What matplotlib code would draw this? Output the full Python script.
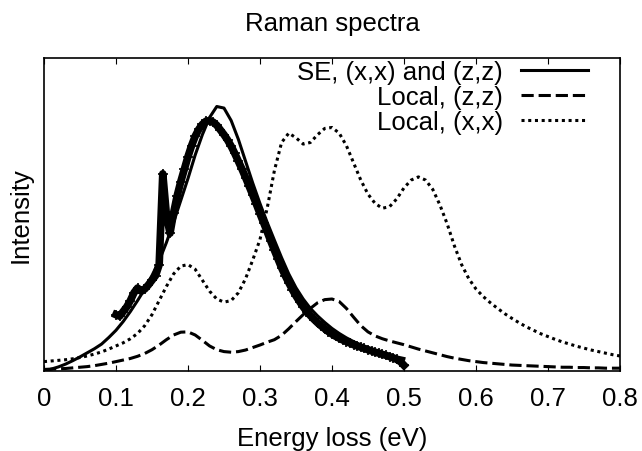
import numpy as np
import matplotlib
matplotlib.use('Agg')
import matplotlib.pyplot as plt

plt.rcParams['font.family'] = ['Liberation Sans', 'DejaVu Sans']

# model curves, 0.01 eV steps
energy_se = np.round(np.arange(0, 0.501, 0.01), 3)
se_xx_zz = [0.000, 0.006, 0.013, 0.022, 0.033, 0.045, 0.058, 0.071, 0.086, 0.107,
            0.130, 0.158, 0.190, 0.225, 0.262, 0.305, 0.352, 0.410, 0.475, 0.545,
            0.615, 0.690, 0.755, 0.810, 0.845, 0.840, 0.800, 0.740, 0.670, 0.600,
            0.535, 0.475, 0.418, 0.362, 0.310, 0.266, 0.230, 0.200, 0.176, 0.155,
            0.136, 0.120, 0.106, 0.094, 0.083, 0.074, 0.066, 0.058, 0.051, 0.045,
            0.040]

energy_local = np.round(np.arange(0, 0.801, 0.01), 3)
local_zz = [0.005, 0.006, 0.007, 0.008, 0.010, 0.012, 0.014, 0.017, 0.021, 0.025,
            0.030, 0.035, 0.040, 0.047, 0.056, 0.068, 0.083, 0.100, 0.115, 0.124,
            0.125, 0.115, 0.098, 0.080, 0.068, 0.062, 0.060, 0.062, 0.067, 0.075,
            0.083, 0.092, 0.100, 0.114, 0.135, 0.158, 0.180, 0.200, 0.218, 0.228,
            0.230, 0.222, 0.200, 0.172, 0.145, 0.125, 0.112, 0.103, 0.096, 0.090,
            0.084, 0.077, 0.070, 0.064, 0.058, 0.052, 0.046, 0.041, 0.037, 0.033,
            0.030, 0.027, 0.025, 0.023, 0.021, 0.019, 0.018, 0.017, 0.016, 0.015,
            0.014, 0.013, 0.012, 0.012, 0.011, 0.011, 0.010, 0.010, 0.009, 0.009,
            0.009]
local_xx = [0.030, 0.032, 0.034, 0.036, 0.039, 0.043, 0.048, 0.054, 0.061, 0.070,
            0.080, 0.090, 0.103, 0.120, 0.145, 0.180, 0.225, 0.270, 0.310, 0.335,
            0.340, 0.325, 0.290, 0.255, 0.230, 0.220, 0.225, 0.250, 0.295, 0.355,
            0.420, 0.520, 0.640, 0.730, 0.760, 0.745, 0.725, 0.730, 0.755, 0.775,
            0.778, 0.760, 0.720, 0.665, 0.610, 0.565, 0.535, 0.520, 0.525, 0.550,
            0.585, 0.610, 0.620, 0.610, 0.580, 0.530, 0.470, 0.400, 0.340, 0.295,
            0.262, 0.238, 0.218, 0.200, 0.183, 0.168, 0.154, 0.141, 0.130, 0.119,
            0.110, 0.101, 0.093, 0.086, 0.079, 0.073, 0.067, 0.062, 0.057, 0.052,
            0.048]

# measured spectrum, 0.005 eV steps
energy_exp = np.round(np.arange(0.1, 0.5001, 0.005), 3)
exp_data = [0.180, 0.175, 0.190, 0.205, 0.225, 0.250, 0.265, 0.255, 0.262, 0.275,
            0.290, 0.305, 0.340, 0.630, 0.500, 0.440, 0.505, 0.560, 0.605, 0.645,
            0.685, 0.720, 0.750, 0.772, 0.788, 0.798, 0.800, 0.795, 0.785, 0.770,
            0.755, 0.738, 0.718, 0.695, 0.670, 0.645, 0.618, 0.590, 0.562, 0.533,
            0.503, 0.474, 0.445, 0.415, 0.386, 0.358, 0.330, 0.305, 0.282, 0.260,
            0.240, 0.222, 0.205, 0.190, 0.177, 0.165, 0.154, 0.144, 0.135, 0.126,
            0.118, 0.111, 0.105, 0.099, 0.094, 0.089, 0.084, 0.080, 0.076, 0.072,
            0.068, 0.064, 0.060, 0.057, 0.053, 0.050, 0.046, 0.042, 0.037, 0.030,
            0.018]

fs = 18.5

fig = plt.figure(figsize=(6.42, 4.52), dpi=100)
ax = fig.add_axes([0.0685, 0.177, 0.8972, 0.6925])

ax.plot(energy_exp, exp_data, color='black', lw=5.5, marker='+', ms=7, mew=1.2)
ax.plot(energy_se, se_xx_zz, color='black', lw=2.2, label='SE, (x,x) and (z,z)')
ax.plot(energy_local, local_zz, color='black', lw=2.2, ls=(0, (4, 1.6)), label='Local, (z,z)')
ax.plot(energy_local, local_xx, color='black', lw=2.2, ls=(0, (1, 1.2)), label='Local, (x,x)')

ax.set_xlim(0, 0.8)
ax.set_ylim(0, 1)
ax.set_xticks(np.arange(0, 0.81, 0.1))
ax.set_xticklabels(['0', '0.1', '0.2', '0.3', '0.4', '0.5', '0.6', '0.7', '0.8'])
ax.set_yticks([])
ax.tick_params(axis='x', direction='in', top=True, length=4, width=0.8, labelsize=fs, pad=11)
for s in ax.spines.values():
    s.set_linewidth(1.2)

ax.set_xlabel('Energy loss (eV)', fontsize=fs, labelpad=11)
ax.set_ylabel('Intensity', fontsize=fs, labelpad=8)
ax.set_title('Raman spectra', fontsize=fs, pad=20)

leg = ax.legend(loc='upper right', bbox_to_anchor=(0.944, 0.995), frameon=False,
                fontsize=fs, markerfirst=False, handlelength=2.6, handletextpad=0.7,
                labelspacing=0.05, borderaxespad=0.0, borderpad=0.0)
for t in leg.get_texts():
    t.set_ha('right')
leg._legend_box.align = 'right'

plt.savefig('out.png', dpi=100)
plt.close()
